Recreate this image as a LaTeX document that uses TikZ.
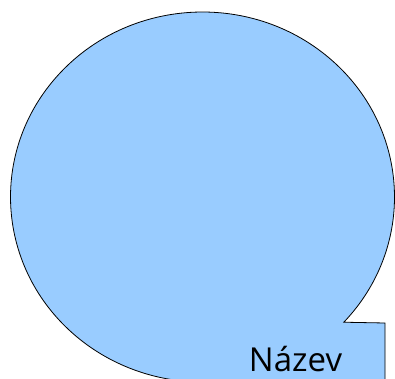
\documentclass[tikz,border=0pt]{standalone}
\usepackage{fontspec}
\setmainfont{Open Sans}
\definecolor{balloon}{RGB}{153,204,255}
\tikzset{balloonshape/.style={draw=black,fill=balloon,line width=0.8pt,line join=miter}}
\begin{document}
\begin{tikzpicture}[x=1pt,y=1pt]
\useasboundingbox (0,0) rectangle (395,378);
\clip (0,0) rectangle (395,378);
\draw[balloonshape] (202.5,181) ++(-42.6:192 and 185)
  arc[start angle=-42.6, end angle=270, x radius=192, y radius=185]
  -- (385,-4) -- (385,55) -- cycle;
\node[anchor=base,inner sep=0pt,font=\fontsize{33}{36}\selectfont] (title) at (295.5,7) {Název};
\end{tikzpicture}
\end{document}
